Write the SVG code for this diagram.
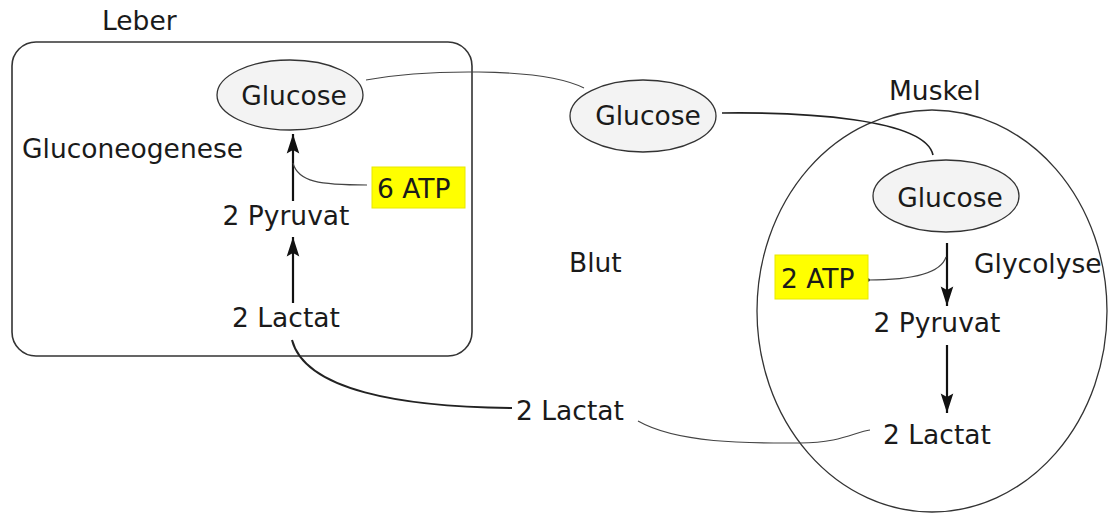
<svg xmlns="http://www.w3.org/2000/svg" width="1108" height="515" viewBox="0 0 1108 515">
<defs>
<style>
text{font-family:"DejaVu Sans","Liberation Sans",sans-serif;font-size:26.5px;fill:#1a1a1a}
.mid{text-anchor:middle}
.ell{fill:#f3f3f3;stroke:#333;stroke-width:1.3}
.atp{fill:#ffff00;stroke:#e8e800;stroke-width:1}
.thin{fill:none;stroke:#444;stroke-width:1.1}
.med{fill:none;stroke:#222;stroke-width:1.6}
.thick{fill:none;stroke:#222;stroke-width:2}
.arr{fill:none;stroke:#111;stroke-width:2.2;marker-end:url(#ah)}
</style>
<marker id="ah" markerUnits="userSpaceOnUse" markerWidth="22" markerHeight="16" viewBox="-18 -7 19 14" refX="0" refY="0" orient="auto">
<path d="M0,0 L-17,-5.5 L-14,0 L-17,5.5 Z" fill="#111"/>
</marker>
</defs>

<g id="leber">
<rect x="12" y="42" width="460" height="314" rx="24" ry="24" fill="none" stroke="#333" stroke-width="1.6"/>
<text x="102" y="30">Leber</text>
<text x="22" y="158">Gluconeogenese</text>
</g>
<g id="muskel">
<ellipse cx="932" cy="311" rx="175" ry="201" fill="none" stroke="#333" stroke-width="1.3"/>
<text x="889" y="100">Muskel</text>
<text x="974" y="273">Glycolyse</text>
</g>
<g id="blut"><text x="569" y="272">Blut</text></g>

<g id="connectors">
<path class="thin" d="M366,80 C420,70 540,66 584,88"/>
<path class="med" d="M722,113 C800,112 925,118 933,155"/>
<path class="thick" d="M292,340 C305,390 400,407 512,408"/>
<path class="thin" d="M638,421 C680,445 760,443 800,443 C840,443 855,432 870,430"/>
<path class="arr" d="M293,201 L293,134"/>
<path class="arr" d="M293,303 L293,237"/>
<path class="thin" d="M367,185 C320,185 298,182 293,163"/>
<path class="arr" d="M947,243 L947,306"/>
<path class="arr" d="M947,345 L947,413"/>
<path class="thin" d="M946,257 C940,276 900,280 868,280"/>
<circle cx="868" cy="280" r="1.8" fill="#222"/>
</g>

<g id="leber-glucose">
<ellipse class="ell" cx="290" cy="95" rx="73" ry="35"/>
<text class="mid" x="294" y="105">Glucose</text>
</g>
<g id="atp6">
<rect class="atp" x="372" y="167" width="93" height="41"/>
<text x="377" y="198">6 ATP</text>
</g>
<g id="leber-pyruvat"><text class="mid" x="286" y="225">2 Pyruvat</text></g>
<g id="leber-lactat"><text class="mid" x="286" y="327">2 Lactat</text></g>

<g id="blut-glucose">
<ellipse class="ell" cx="643" cy="116" rx="73" ry="36"/>
<text class="mid" x="648" y="125">Glucose</text>
</g>
<g id="blut-lactat"><text class="mid" x="570" y="420">2 Lactat</text></g>

<g id="muskel-glucose">
<ellipse class="ell" cx="946" cy="196" rx="73" ry="36"/>
<text class="mid" x="950" y="207">Glucose</text>
</g>
<g id="atp2">
<rect class="atp" x="775" y="255" width="93" height="44"/>
<text x="781" y="288">2 ATP</text>
</g>
<g id="muskel-pyruvat"><text class="mid" x="937" y="332">2 Pyruvat</text></g>
<g id="muskel-lactat"><text class="mid" x="937" y="444">2 Lactat</text></g>
</svg>
